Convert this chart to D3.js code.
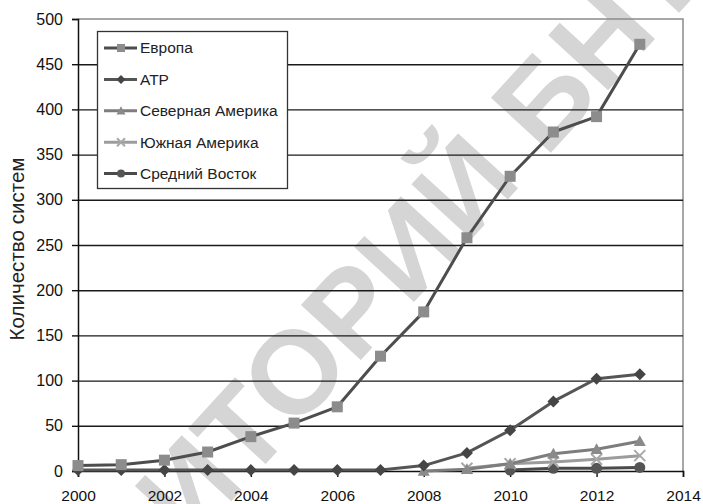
<!DOCTYPE html>
<html>
<head>
<meta charset="utf-8">
<script src="https://cdn.jsdelivr.net/npm/d3@7"></script>
<style>
  html, body { margin: 0; padding: 0; background: #fff; }
  svg { display: block; font-family: Arial, "Liberation Sans", sans-serif; }
</style>
</head>
<body>
<svg id="chart" width="703" height="504"></svg>
<script>
// ---- data ----
const years = [2000, 2001, 2002, 2003, 2004, 2005, 2006, 2007, 2008, 2009, 2010, 2011, 2012, 2013];
const europe = [6, 7, 12, 21, 38, 53, 71, 127, 176, 258, 326, 375, 392, 472];
const apac   = [1, 1, 1, 1, 1, 1, 1, 1, 6, 20, 45, 77, 102, 107];
const naYears = [2008, 2009, 2010, 2011, 2012, 2013];
const northAmerica = [0, 2, 8, 19, 24, 33];
const saYears = [2009, 2010, 2011, 2012, 2013];
const southAmerica = [3, 8, 10, 13, 17];
const meYears = [2010, 2011, 2012, 2013];
const middleEast = [1, 3, 3, 4];
const seriesNames = ["Европа", "АТР", "Северная Америка", "Южная Америка", "Средний Восток"];
const yTicks = [0, 50, 100, 150, 200, 250, 300, 350, 400, 450, 500];
const xTicks = [2000, 2002, 2004, 2006, 2008, 2010, 2012, 2014];
const yTitle = "Количество систем";
const watermark = "РЕПОЗИТОРИЙ БНТУ";

const series = [
  { name: seriesNames[0], xs: years, ys: europe, line: "#4d4d4d", mark: "#8c8c8c", shape: "square" },
  { name: seriesNames[1], xs: years, ys: apac, line: "#555555", mark: "#454545", shape: "diamond" },
  { name: seriesNames[2], xs: naYears, ys: northAmerica, line: "#7d7d7d", mark: "#8a8a8a", shape: "triangle" },
  { name: seriesNames[3], xs: saYears, ys: southAmerica, line: "#9c9c9c", mark: "#a8a8a8", shape: "cross" },
  { name: seriesNames[4], xs: meYears, ys: middleEast, line: "#4a4a4a", mark: "#555555", shape: "circle" }
];

const svg = d3.select("#chart");
const x = d3.scaleLinear().domain([2000, 2014]).range([78, 683]);
const y = d3.scaleLinear().domain([0, 500]).range([471, 19]);

// watermark (behind the chart, like the scanned stamp)
svg.append("text")
  .attr("transform", "translate(305,358) rotate(-47.5)")
  .attr("text-anchor", "middle").attr("dy", "0.36em")
  .attr("font-size", 118).attr("font-weight", "bold")
  .attr("fill", "#d5d5d5")
  .text(watermark);

// plot border (top + right)
svg.append("path")
  .attr("d", `M${x(2000)},${y(500)}H${x(2014)}V${y(0)}`)
  .attr("fill", "none").attr("stroke", "#8a8a8a").attr("stroke-width", 1.5);

// gridlines
const grid = svg.append("g").attr("transform", `translate(${x(2000)},0)`)
  .call(d3.axisLeft(y).tickValues(yTicks.filter(v => v > 0 && v < 500)).tickSize(-(x(2014) - x(2000))).tickFormat(""));
grid.select(".domain").remove();
grid.selectAll("line").attr("stroke", "#1a1a1a").attr("stroke-width", 1.4);

// y axis
const yAxis = svg.append("g").attr("transform", `translate(${x(2000)},0)`)
  .call(d3.axisLeft(y).tickValues(yTicks).tickSize(6).tickPadding(9));
yAxis.select(".domain").attr("stroke", "#111").attr("stroke-width", 1.5);
yAxis.selectAll("line").attr("stroke", "#111").attr("stroke-width", 1.4);
yAxis.selectAll("text").attr("font-size", 16).attr("fill", "#111").attr("font-family", "Arial, 'Liberation Sans', sans-serif");

// x axis
const xAxis = svg.append("g").attr("transform", `translate(0,${y(0)})`)
  .call(d3.axisBottom(x).tickValues(xTicks).tickFormat(d3.format("d")).tickSize(6).tickPadding(13));
xAxis.select(".domain").attr("stroke", "#111").attr("stroke-width", 1.5);
xAxis.selectAll("line").attr("stroke", "#111").attr("stroke-width", 1.4);
xAxis.selectAll("text").attr("font-size", 15.5).attr("fill", "#111").attr("font-family", "Arial, 'Liberation Sans', sans-serif");

// y title
svg.append("text")
  .attr("transform", `translate(24,249) rotate(-90)`)
  .attr("text-anchor", "middle")
  .attr("font-size", 21).attr("fill", "#222")
  .attr("textLength", 183).attr("lengthAdjust", "spacingAndGlyphs")
  .text(yTitle);

// markers
function drawMarker(g, shape, cx, cy, size, color) {
  const h = size / 2;
  if (shape === "square") {
    g.append("rect").attr("x", cx - h).attr("y", cy - h)
      .attr("width", size).attr("height", size).attr("fill", color);
  } else if (shape === "diamond") {
    g.append("path").attr("d", `M${cx},${cy - h}L${cx + h},${cy}L${cx},${cy + h}L${cx - h},${cy}Z`).attr("fill", color);
  } else if (shape === "triangle") {
    g.append("path").attr("d", `M${cx},${cy - h}L${cx + h},${cy + h * 0.8}L${cx - h},${cy + h * 0.8}Z`).attr("fill", color);
  } else if (shape === "cross") {
    g.append("path").attr("d", `M${cx - h},${cy - h}L${cx + h},${cy + h}M${cx - h},${cy + h}L${cx + h},${cy - h}`)
      .attr("stroke", color).attr("stroke-width", 2).attr("fill", "none");
  } else {
    g.append("circle").attr("cx", cx).attr("cy", cy).attr("r", h).attr("fill", color);
  }
}

const line = d3.line().x(d => x(d[0])).y(d => y(d[1]));
const plot = svg.append("g");
[...series].reverse().forEach(s => {
  const pts = s.xs.map((v, i) => [v, s.ys[i]]);
  plot.append("path").datum(pts).attr("d", line)
    .attr("fill", "none").attr("stroke", s.line).attr("stroke-width", 3).attr("stroke-linejoin", "round");
});
const markSize = { square: 11, diamond: 12, triangle: 12, cross: 11, circle: 11 };
[...series].reverse().forEach(s => {
  const g = plot.append("g");
  s.xs.forEach((v, i) => drawMarker(g, s.shape, x(v), y(s.ys[i]), markSize[s.shape], s.mark));
});

// legend
const legendSize = { square: 8, diamond: 9, triangle: 9, cross: 8, circle: 8 };
const lg = svg.append("g");
lg.append("rect").attr("x", 97.5).attr("y", 31.5).attr("width", 190).attr("height", 157)
  .attr("fill", "#fff").attr("stroke", "#333").attr("stroke-width", 1.3);
series.forEach((s, i) => {
  const cy = 48 + i * 31.4;
  lg.append("line").attr("x1", 104).attr("x2", 137).attr("y1", cy).attr("y2", cy)
    .attr("stroke", s.line).attr("stroke-width", 3);
  drawMarker(lg, s.shape, 121, cy, legendSize[s.shape], s.mark);
  lg.append("text").attr("x", 140).attr("y", cy).attr("dy", "0.35em")
    .attr("font-size", 15.5).attr("fill", "#222").text(s.name);
});
</script>
</body>
</html>
